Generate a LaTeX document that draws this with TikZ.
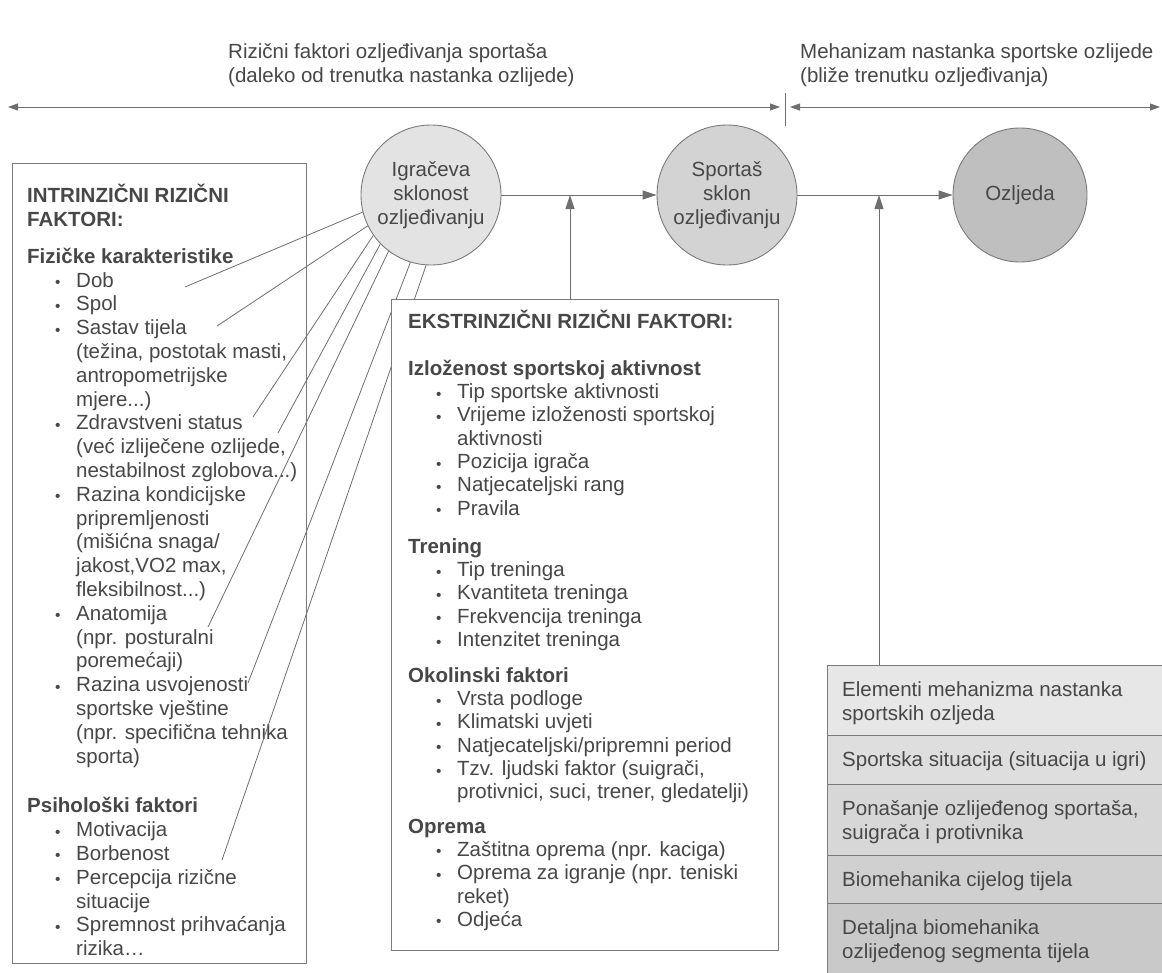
\documentclass[tikz,border=0pt]{standalone}
\usepackage{fontspec}
\usepackage{graphicx}
\setmainfont{Liberation Sans}
\usetikzlibrary{arrows.meta}
\definecolor{ink}{HTML}{474747}
\definecolor{ln}{HTML}{6E6E6E}
\definecolor{bd}{HTML}{7A7A7A}
\definecolor{c1}{HTML}{E3E3E3}
\definecolor{c2}{HTML}{D3D3D3}
\definecolor{c3}{HTML}{BFBFBF}
\definecolor{r1}{HTML}{E7E7E7}
\definecolor{r2}{HTML}{DEDEDE}
\definecolor{r3}{HTML}{D7D7D7}
\definecolor{r4}{HTML}{D0D0D0}
\definecolor{r5}{HTML}{C9C9C9}
\newcommand\fl{\rule{0pt}{20pt}}
\newcommand\bi{\hspace*{28pt}\makebox[21pt][l]{\raisebox{-0.5pt}{\scalebox{0.75}{•}}}}
\newcommand\ci{\hspace*{49pt}}
\begin{document}
\begin{tikzpicture}[x=1pt,y=-1pt,
  every node/.style={font=\fontsize{20.5}{23.8}\selectfont, text=ink},
  txt/.style={inner sep=0pt, align=left, anchor=north west},
  box/.style={draw=bd, line width=0.8pt, anchor=north west, inner sep=0pt},
  circ/.style={circle, draw=bd, line width=0.9pt, minimum size=140pt, inner sep=0pt, align=center},
  link/.style={draw=ln, line width=0.8pt},
  arr/.style={draw=ln, line width=0.9pt, -{Triangle[length=14pt,width=9pt]}},
  tarr/.style={draw=ln, line width=0.9pt, {Triangle[length=10pt,width=7pt]}-{Triangle[length=10pt,width=7pt]}},
  mrow/.style={draw=bd, line width=0.8pt, anchor=north west, inner sep=0pt, minimum width=360pt}
]
\useasboundingbox (0,0) rectangle (1162,972);
\clip (0,0) rectangle (1162,972);
\fill[white] (0,0) rectangle (1162,972);

% top timeline
\coordinate (tl) at (8,107);
\coordinate (tml) at (780,107);
\coordinate (tmr) at (790,107);
\coordinate (tr) at (1160,107);
\coordinate (tk1) at (785,93);
\coordinate (tk2) at (785,126);
\draw[tarr] (tl) -- (tml);
\draw[tarr] (tmr) -- (tr);
\draw[link] (tk1) -- (tk2);
\node[txt] (tt1) at (228,38) {\fl Rizični faktori ozljeđivanja sportaša\\(daleko od trenutka nastanka ozlijede)};
\node[txt] (tt2) at (800,38) {\fl Mehanizam nastanka sportske ozlijede\\(bliže trenutku ozljeđivanja)};

% intrinsic box
\node[box, minimum width=294pt, minimum height=800pt] (ibox) at (12,163) {};
\node[txt] (itx) at (27,182) {\fl\textbf{INTRINZIČNI RIZIČNI}\\\textbf{FAKTORI:}\\[13.4pt]\textbf{Fizičke karakteristike}\\\bi Dob\\\bi Spol\\\bi Sastav tijela\\\ci (težina, postotak masti,\\\ci antropometrijske\\\ci mjere...)\\\bi Zdravstveni status\\\ci (već izliječene ozlijede,\\\ci nestabilnost zglobova...)\\\bi Razina kondicijske\\\ci pripremljenosti\\\ci (mišićna snaga/\\\ci jakost,VO2 max,\\\ci fleksibilnost...)\\\bi Anatomija\\\ci (npr. posturalni\\\ci poremećaji)\\\bi Razina usvojenosti\\\ci sportske vještine\\\ci (npr. specifična tehnika\\\ci sporta)\\[26pt]\textbf{Psihološki faktori}\\\bi Motivacija\\\bi Borbenost\\\bi Percepcija rizične\\\ci situacije\\\bi Spremnost prihvaćanja\\\ci rizika…};

% circles
\node[circ, fill=c1] (igr) at (431,195) {Igračeva\\sklonost\\ozljeđivanju};
\node[circ, fill=c2] (sp) at (727,195) {Sportaš\\sklon\\ozljeđivanju};
\node[circ, fill=c3, minimum size=134pt] (oz) at (1020,195) {Ozljeda};

% fan of links
\coordinate (e1) at (185,287);
\coordinate (e2) at (217,326);
\coordinate (e3) at (253,417);
\coordinate (e4) at (278,433);
\coordinate (e5) at (208,627);
\coordinate (e6) at (248,683);
\coordinate (e7) at (222,860);
\draw[link] (igr.194.6) -- (e1);
\draw[link] (igr.206) -- (e2);
\draw[link] (igr.215) -- (e3);
\draw[link] (igr.224) -- (e4);
\draw[link] (igr.233) -- (e5);
\draw[link] (igr.253) -- (e6);
\draw[link] (igr.266.6) -- (e7);

% extrinsic box
\node[box, fill=white, minimum width=387pt, minimum height=651pt] (ebox) at (391,299) {};
\node[txt, font=\fontsize{20.5}{23.3}\selectfont] (etx) at (408,308) {\fl\textbf{EKSTRINZIČNI RIZIČNI FAKTORI:}\\[23.8pt]\textbf{Izloženost sportskoj aktivnost}\\\bi Tip sportske aktivnosti\\\bi Vrijeme izloženosti sportskoj\\\ci aktivnosti\\\bi Pozicija igrača\\\bi Natjecateljski rang\\\bi Pravila\\[14.9pt]\textbf{Trening}\\\bi Tip treninga\\\bi Kvantiteta treninga\\\bi Frekvencija treninga\\\bi Intenzitet treninga\\[12.5pt]\textbf{Okolinski faktori}\\\bi Vrsta podloge\\\bi Klimatski uvjeti\\\bi Natjecateljski/pripremni period\\\bi Tzv. ljudski faktor (suigrači,\\\ci protivnici, suci, trener, gledatelji)\\[11pt]\textbf{Oprema}\\\bi Zaštitna oprema (npr. kaciga)\\\bi Oprema za igranje (npr. teniski\\\ci reket)\\\bi Odjeća};

% mechanism box
\node[mrow, fill=r1, minimum height=70pt] (m1) at (827,665) {};
\node[mrow, fill=r2, minimum height=49pt] (m2) at (827,735) {};
\node[mrow, fill=r3, minimum height=71pt] (m3) at (827,784) {};
\node[mrow, fill=r4, minimum height=48pt] (m4) at (827,855) {};
\node[mrow, fill=r5, minimum height=80pt] (m5) at (827,903) {};
\node[txt, anchor=west] (m1t) at (842,703) {Elementi mehanizma nastanka\\sportskih ozljeda};
\node[txt, anchor=west] (m2t) at (842,761) {Sportska situacija (situacija u igri)};
\node[txt, anchor=west] (m3t) at (842,822) {Ponašanje ozlijeđenog sportaša,\\suigrača i protivnika};
\node[txt, anchor=west] (m4t) at (842,881) {Biomehanika cijelog tijela};
\node[txt, anchor=west] (m5t) at (842,941) {Detaljna biomehanika\\ozlijeđenog segmenta tijela};

% main arrows
\draw[arr] (igr) -- (sp);
\draw[arr] (sp) -- (oz);
\coordinate (j1) at (570,195);
\coordinate (j2) at (879,195);
\draw[arr] (ebox.north -| j1) -- (j1);
\draw[arr] (m1.north -| j2) -- (j2);
\end{tikzpicture}
\end{document}
